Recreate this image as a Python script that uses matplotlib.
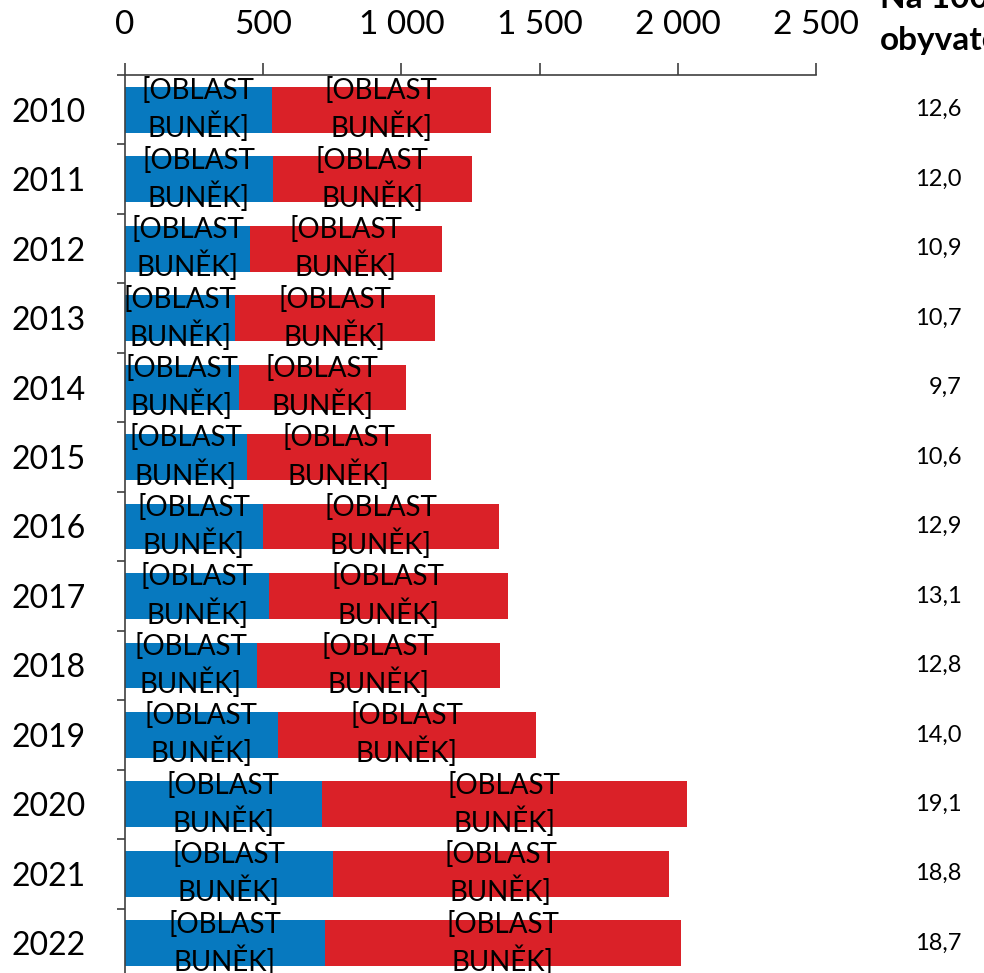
import matplotlib
matplotlib.use("Agg")
import matplotlib.pyplot as plt
import numpy as np

plt.rcParams["font.family"] = ["Lato", "DejaVu Sans"]

years = ["2010", "2011", "2012", "2013", "2014", "2015", "2016",
         "2017", "2018", "2019", "2020", "2021", "2022"]
blue_vals = [531, 535, 452, 398, 412, 441, 499, 521, 477, 553, 712, 752, 723]
red_vals = [792, 719, 694, 723, 604, 665, 853, 864, 879, 933, 1320, 1215, 1287]
per_100k = ["12,6", "12,0", "10,9", "10,7", "9,7", "10,6", "12,9",
            "13,1", "12,8", "14,0", "19,1", "18,8", "18,7"]
x_ticks = [0, 500, 1000, 1500, 2000, 2500]
x_tick_labels = ["0", "500", "1 000", "1 500", "2 000", "2 500"]
cell_label = "[OBLAST\nBUNĚK]"

blue = "#0779BF"
red = "#DA2128"

fig = plt.figure(figsize=(9.84, 9.73), dpi=100)
ax = fig.add_axes([125 / 984, -5 / 973, 691 / 984, 903 / 973])

y = np.arange(len(years))
ax.barh(y, blue_vals, height=0.66, color=blue)
ax.barh(y, red_vals, left=blue_vals, height=0.66, color=red)

for i in range(len(years)):
    ax.text(blue_vals[i] / 2, y[i], cell_label, ha="center", va="center",
            fontsize=20, linespacing=1.3, color="black")
    ax.text(blue_vals[i] + red_vals[i] / 2, y[i], cell_label, ha="center",
            va="center", fontsize=20, linespacing=1.3, color="black")
    ax.text(1.211, y[i], per_100k[i], transform=ax.get_yaxis_transform(),
            ha="right", va="center", fontsize=17, clip_on=False)

# column header, cut off by the figure edge as in the source
fig.text(880 / 984, 1 - 8 / 973, "Na 100 000", ha="left", va="baseline",
         fontsize=24, fontweight="bold")
fig.text(880 / 984, 1 - 50 / 973, "obyvatel", ha="left", va="baseline",
         fontsize=24, fontweight="bold")

ax.set_xlim(0, 2500)
ax.set_ylim(len(years) - 0.5, -0.5)

ax.xaxis.tick_top()
ax.set_xticks(x_ticks)
ax.set_xticklabels(x_tick_labels, fontsize=24)
ax.tick_params(axis="x", direction="out", length=9, width=1.2, pad=16,
               color="#404040")

ax.set_yticks(np.arange(-0.5, len(years), 1.0))
ax.set_yticklabels([])
ax.set_yticks(y, minor=True)
ax.set_yticklabels(years, minor=True, fontsize=23)
ax.tick_params(axis="y", which="major", direction="out", length=6, width=1.2,
               color="#404040")
ax.tick_params(axis="y", which="minor", length=0, pad=28)

for side in ["right", "bottom"]:
    ax.spines[side].set_visible(False)
for side in ["left", "top"]:
    ax.spines[side].set_linewidth(1.2)
    ax.spines[side].set_color("#404040")

fig.savefig("out.png", dpi=100)
